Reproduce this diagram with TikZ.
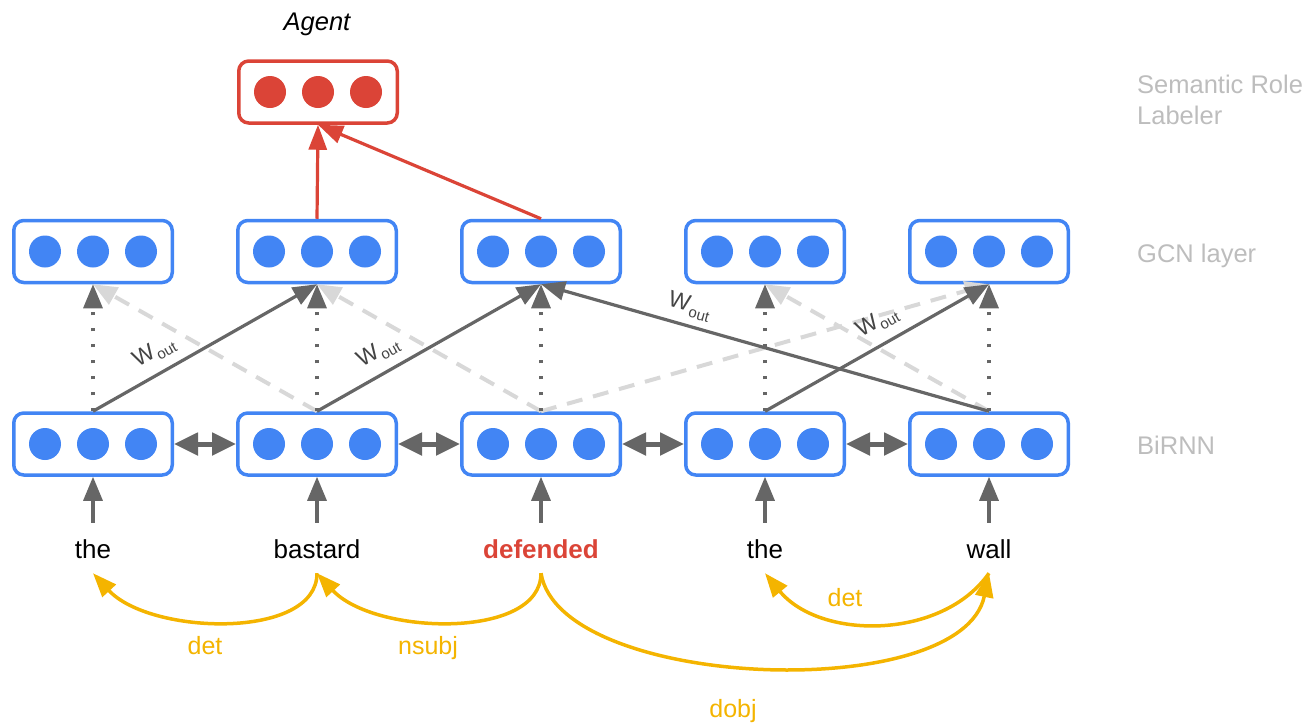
\documentclass[tikz,border=0pt]{standalone}
\usepackage{fontspec}
\setmainfont{Liberation Sans}
\usetikzlibrary{arrows.meta,calc}
\definecolor{gblue}{HTML}{4285F4}
\definecolor{gred}{HTML}{DB4437}
\definecolor{gyellow}{HTML}{F4B400}
\definecolor{dgray}{HTML}{666666}
\definecolor{lgray}{HTML}{D8D8D8}
\definecolor{capgray}{HTML}{BDBDBD}
\definecolor{wgray}{HTML}{444444}
% three dots inside a vector box
\newcommand\vecdots[2]{%
  \foreach \dx in {-48,0,48}
    \fill[#2] ($(#1)+(\dx,0)$) circle[radius=16pt];}
% weight symbol with subscript
\newcommand\wout{W\kern1pt\raisebox{-5pt}{\fontsize{15}{18}\selectfont out}}
\begin{document}
\begin{tikzpicture}[x=1pt,y=-1pt,
  vecbox/.style={draw=gblue, line width=3.5pt, rounded corners=10pt,
    minimum width=158.5pt, minimum height=62pt, inner sep=0pt, fill=white},
  outbox/.style={vecbox, draw=gred},
  word/.style={font=\fontsize{26}{30}\selectfont, text height=20pt,
    text depth=15pt, inner sep=0pt, anchor=base},
  layername/.style={font=\fontsize{25.5}{30}\selectfont, text=capgray,
    inner sep=0pt, anchor=base west},
  deplabel/.style={font=\fontsize{25}{30}\selectfont, text=gyellow,
    inner sep=0pt, anchor=base},
  wlabel/.style={font=\fontsize{23}{26}\selectfont, text=wgray,
    sloped, inner sep=1pt},
  bigtip/.style={-{Triangle[length=24pt,width=19pt]}},
  link/.style={draw=dgray, line width=3.2pt, bigtip},
  selflink/.style={link, dash pattern=on 3.2pt off 12.8pt},
  revlink/.style={draw=lgray, line width=4pt, dash pattern=on 16pt off 11pt, bigtip},
  rnnlink/.style={draw=dgray, line width=5pt,
    {Triangle[length=24pt,width=22pt]}-{Triangle[length=24pt,width=22pt]}},
  srllink/.style={draw=gred, line width=3.2pt, -{Triangle[length=25pt,width=18pt]}},
  dep/.style={draw=gyellow, line width=3.5pt, -{Triangle[length=24pt,width=18pt]}},
]
\useasboundingbox (0,0) rectangle (1312,724);

% layers
\foreach \i/\x in {1/93,2/317,3/541,4/765,5/989} {
  \node[vecbox] (g\i) at (\x,251.5) {};
  \node[vecbox] (b\i) at (\x,444) {};
}
\node[outbox] (srl) at (318,92) {};
\node[font=\fontsize{25.5}{30}\selectfont\itshape, inner sep=0pt, anchor=base]
  (agent) at (317,30) {Agent};

% words
\node[word] (w1) at (93,558) {the};
\node[word] (w2) at (317,558) {bastard};
\node[word, text=gred, font=\fontsize{26}{30}\selectfont\bfseries] (w3) at (541,558) {defended};
\node[word] (w4) at (765,558) {the};
\node[word] (w5) at (989,558) {wall};

% layer names
\node[layername] (nsrl1) at (1137,93) {Semantic Role};
\node[layername] (nsrl2) at (1137,124) {Labeler};
\node[layername] (ngcn) at (1137,262) {GCN layer};
\node[layername] (nrnn) at (1137,454) {BiRNN};

% reverse-direction edges
\draw[revlink] (b2.north) -- (g1.south);
\draw[revlink] (b3.north) -- (g2.south);
\draw[revlink] (b3.north) -- (g5.south);
\draw[revlink] (b5.north) -- (g4.south);

% self loops
\foreach \i in {1,...,5}
  \draw[selflink] (b\i.north) -- (g\i.south);

% forward edges
\draw[link] (b1.north) -- node[wlabel, pos=0.32, above=8pt] (wl1) {\wout} (g2.south);
\draw[link] (b2.north) -- node[wlabel, pos=0.32, above=8pt] (wl2) {\wout} (g3.south);
\draw[link] (b5.north) -- node[wlabel, pos=0.68, above=6pt] (wl3) {\wout} (g3.south);
\draw[link] (b4.north) -- node[wlabel, pos=0.55, above=9pt] (wl4) {\wout} (g5.south);

% recurrent connections
\foreach \i/\j in {1/2,2/3,3/4,4/5}
  \draw[rnnlink] (b\i.east) -- (b\j.west);

% inputs
\foreach \i in {1,...,5}
  \draw[link] ([yshift=15pt]w\i.north) -- (b\i.south);

% role classifier
\draw[srllink] (g2.north) -- (srl.south);
\draw[srllink] (g3.north) -- (srl.south);
\vecdots{srl}{gred}
\foreach \i in {1,...,5} {
  \vecdots{g\i}{gblue}
  \vecdots{b\i}{gblue}
}

% dependency arcs
\draw[dep] (w2.south) .. controls +(0,67) and +(57,62) .. (w1.south);
\draw[dep] (w3.south) .. controls +(0,67) and +(57,62) .. (w2.south);
\draw[dep] (w5.south) .. controls +(-47,67) and +(55,67) .. (w4.south);
\draw[dep] (w3.south) .. controls +(19,117) and +(-27,132) .. (w5.south);
\node[deplabel] (d1) at (205,654) {det};
\node[deplabel] (d2) at (428,654) {nsubj};
\node[deplabel] (d3) at (845,606) {det};
\node[deplabel] (d4) at (733,717) {dobj};
\end{tikzpicture}
\end{document}
